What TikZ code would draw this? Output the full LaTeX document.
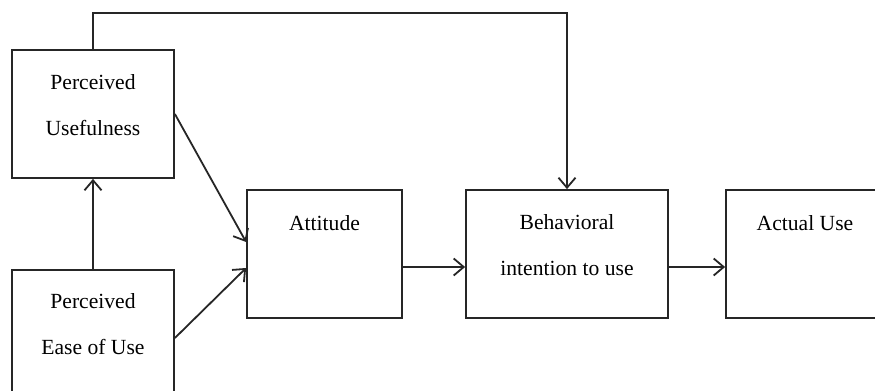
\documentclass[tikz,border=0pt]{standalone}
\usepackage{fontspec}
\setmainfont{Liberation Serif}
\usetikzlibrary{arrows.meta,calc}

\tikzset{
  box/.style={draw=black!85, line width=0.9pt, rectangle, inner sep=0pt,
    minimum width=#1*0.5pt, minimum height=64pt},
  lbl/.style={font=\fontsize{10.8}{23}\selectfont, align=center, inner sep=0pt},
  link/.style={draw=black!85, line width=0.9pt,
    -{Straight Barb[length=5pt,width=8.5pt,line width=0.9pt]}},
  plain/.style={draw=black!85, line width=0.9pt},
}

\begin{document}
\begin{tikzpicture}[x=0.5pt, y=-0.5pt]
  % page frame; the lowest box and the rightmost box run past it
  \clip (0,0) rectangle (875,391);
  \fill[white] (0,0) rectangle (875,391);

  % boxes
  \node[box=162] (PU)  at (93,114)  {};
  \node[box=162] (PEU) at (93,334)  {};
  \node[box=155] (Att) at (324.5,254) {};
  \node[box=202] (BI)  at (567,254) {};
  \node[box=158] (AU)  at (805,254) {};

  % box texts
  \node[lbl] (tPU)  at (93,105)   {Perceived\\Usefulness};
  \node[lbl] (tPEU) at (93,324.5) {Perceived\\Ease of Use};
  \node[lbl] (tAtt) at (324.5,223) {Attitude};
  \node[lbl] (tBI)  at (567,245)  {Behavioral\\intention to use};
  \node[lbl] (tAU)  at (805,223)  {Actual Use};

  % connectors
  \coordinate (top1) at (93,13);
  \coordinate (top2) at (567,13);
  \draw[link] (PEU.north) -- (PU.south);
  \draw[link] (PU.east) -- ($(Att.west)+(0,-12)$);
  \draw[link] ($(PEU.east)+(0,4)$) -- ($(Att.west)+(0,14)$);
  \draw[link] ($(Att.east)+(0,13)$) -- ($(BI.west)+(0,13)$);
  \draw[link] ($(BI.east)+(0,13)$) -- ($(AU.west)+(0,13)$);
  \draw[link] (PU.north) -- (top1) -- (top2) -- (BI.north);
\end{tikzpicture}
\end{document}
